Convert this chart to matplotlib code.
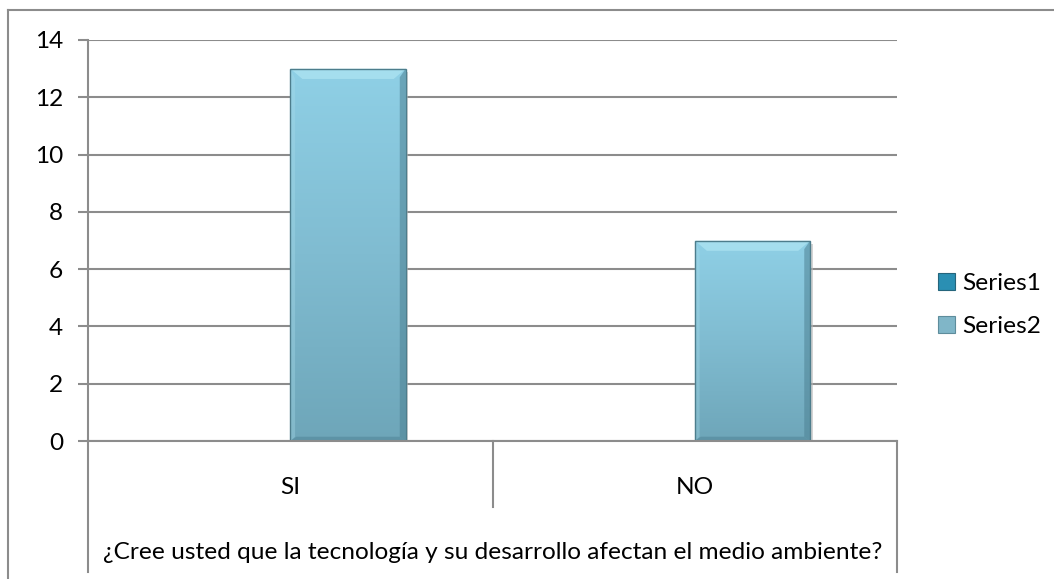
import matplotlib
matplotlib.use("Agg")
import matplotlib.pyplot as plt
import matplotlib.lines as lines
from matplotlib.patches import Patch
from matplotlib.colors import LinearSegmentedColormap
import numpy as np

# data
categories = ["SI", "NO"]
series1 = [0, 0]
series2 = [13, 7]
series_names = ["Series1", "Series2"]
question = "¿Cree usted que la tecnología y su desarrollo afectan el medio ambiente?"
y_ticks = [0, 2, 4, 6, 8, 10, 12, 14]

plt.rcParams['font.family'] = ['Lato', 'DejaVu Sans']
FS = 17.6
GRID = "#8c8c8c"

W, H = 1054, 579
fig = plt.figure(figsize=(W / 100, H / 100), dpi=100)
ax = fig.add_axes([88 / W, 1 - 441 / H, (897 - 88) / W, 401 / H])

x = np.arange(len(categories))
bw = 1 / 3.5
b1 = ax.bar(x - bw / 2, series1, bw, color="#3a9bbf", linewidth=0)
b2 = ax.bar(x + bw / 2, series2, bw, color="#86c6dc", edgecolor="#4d7d8c", linewidth=1.0, zorder=3)

# gradient fill + bevel on the bars
grad_cmap = LinearSegmentedColormap.from_list("g", ["#6ea6b9", "#80bcd1", "#8fd0e6"])
g = np.linspace(0, 1, 256).reshape(-1, 1)
for p in b2:
    x0, y0 = p.get_x(), p.get_y()
    x1, y1 = x0 + p.get_width(), y0 + p.get_height()
    # soft shadow
    ax.bar(x0 + p.get_width() / 2 + 0.006, p.get_height(), p.get_width(), bottom=-0.12,
           color="#b8b8b8", alpha=0.6, linewidth=0, zorder=2)
    im = ax.imshow(g, extent=[x0, x1, y0, y1], origin="lower", cmap=grad_cmap,
                   aspect="auto", zorder=3.5, interpolation="bilinear")
    im.set_clip_path(p)
    # top bevel
    ax.fill([x0, x1, x1 - 0.03, x0 + 0.03], [y1, y1, y1 - 0.36, y1 - 0.36],
            color="#b8ecf7", alpha=0.55, linewidth=0, zorder=3.6)
    # left light edge
    ax.fill([x0, x0, x0 + 0.012, x0 + 0.012], [y0, y1, y1 - 0.36, y0 + 0.15],
            color="#a9dcea", alpha=0.35, linewidth=0, zorder=3.6)
    # dark right and bottom edges
    ax.fill([x1, x1, x1 - 0.015, x1 - 0.015], [y1, y0, y0 + 0.15, y1 - 0.3],
            color="#4e8294", alpha=0.55, linewidth=0, zorder=3.6)
    ax.fill([x0, x1, x1 - 0.015, x0 + 0.015], [y0, y0, y0 + 0.15, y0 + 0.15],
            color="#4e8294", alpha=0.5, linewidth=0, zorder=3.6)
    p.set_facecolor("none")
    p.set_zorder(4)

ax.set_xlim(-0.5, len(categories) - 0.5)
ax.set_ylim(0, 14)
ax.set_yticks(y_ticks)
ax.set_xticks([])
ax.yaxis.grid(True, color=GRID, linewidth=1.5)
ax.set_axisbelow(True)
for s in ["top", "right", "bottom"]:
    ax.spines[s].set_visible(False)
ax.spines["left"].set_color(GRID)
ax.spines["left"].set_linewidth(1.5)
ax.tick_params(axis="y", length=7, width=1.5, color=GRID, pad=11, labelsize=FS)

# multi-level category table below the axes
tr = ax.get_xaxis_transform()
lo = -0.327
ax.plot([-0.5, -0.5], [0, lo], color=GRID, lw=1.5, transform=tr, clip_on=False)
ax.plot([1.5, 1.5], [0, lo], color=GRID, lw=1.5, transform=tr, clip_on=False)
ax.plot([0.5, 0.5], [0, -0.165], color=GRID, lw=1.5, transform=tr, clip_on=False)
ax.plot([-0.5, 1.5], [0, 0], color=GRID, lw=1.5, transform=tr, clip_on=False, zorder=5)
for xi, c in zip(x, categories):
    ax.text(xi, -0.115, c, transform=tr, ha="center", va="center", fontsize=FS)
ax.text(0.5, -0.277, question, transform=tr, ha="center", va="center", fontsize=FS)

# outer chart border (left and top only visible)
fig.add_artist(lines.Line2D([8 / W, 8 / W], [0, 1 - 10 / H], color=GRID, lw=1.5))
fig.add_artist(lines.Line2D([8 / W, 1], [1 - 10 / H, 1 - 10 / H], color=GRID, lw=1.5))

handles = [Patch(facecolor="#2a8fb3", edgecolor="#25657c", lw=0.8),
           Patch(facecolor="#80b6c8", edgecolor="#5e8d9c", lw=0.8)]
fig.legend(handles, series_names, loc="center left", bbox_to_anchor=(916 / W, 1 - 305 / H),
           frameon=False, fontsize=FS, handlelength=0.7, handleheight=0.7,
           handletextpad=0.3, labelspacing=0.9)

fig.savefig("out.png", dpi=100)
